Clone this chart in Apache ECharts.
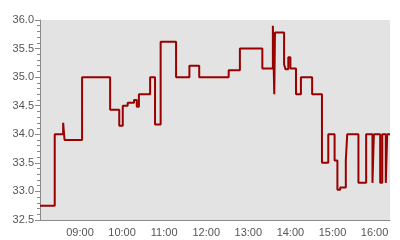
<!DOCTYPE html>
<html>
<head>
<meta charset="utf-8">
<script src="https://cdn.jsdelivr.net/npm/echarts@6/dist/echarts.min.js"></script>
<style>html,body{margin:0;padding:0;background:#fff}#c{width:400px;height:240px}</style>
</head>
<body>
<div id="c"></div>
<script>
var day = '2024-01-02 ';
var times = ['08:03','08:24','08:36','08:38','09:03','09:43','09:56','10:01','10:08','10:17','10:21','10:24','10:40','10:47','10:55','11:17','11:36','11:50','12:32','12:48','13:20','13:35','13:37','13:38','13:51','13:53','13:57','14:00','14:08','14:15','14:31','14:45','14:54','15:03','15:07','15:11','15:19','15:21','15:37','15:48','15:57','15:59','16:08','16:11','16:16','16:18','16:22'];
var values = [32.75,34.0,34.2,33.9,35.0,34.43,34.15,34.5,34.55,34.6,34.48,34.7,35.0,34.17,35.62,35.0,35.2,35.0,35.12,35.5,35.15,35.9,34.7,35.78,35.22,35.14,35.35,35.15,34.7,35.0,34.7,33.5,34.0,33.54,33.03,33.07,33.54,34.0,33.15,34.0,33.15,34.0,33.15,34.0,33.15,34.0,34.0];
var axisMin = '08:03', axisMax = '16:22';
var yMin = 32.5, yMax = 36.0, yStep = 0.5;

var data = times.map(function(t, i){ return [day + t, values[i]]; });
var chart = echarts.init(document.getElementById('c'), null, {renderer: 'canvas'});
chart.setOption({
  animation: false,
  textStyle: {fontFamily: 'Liberation Sans'},
  grid: {left: 40, right: 10, top: 20, bottom: 20, show: true, backgroundColor: '#e3e3e3', borderWidth: 0},
  xAxis: {
    type: 'time',
    min: day + axisMin, max: day + axisMax,
    minInterval: 3600000, maxInterval: 3600000,
    axisLine: {lineStyle: {color: '#8a8a8a', width: 1}},
    axisTick: {show: false},
    splitLine: {show: false},
    axisLabel: {formatter: '{HH}:{mm}', color: '#555', fontSize: 11, margin: 7, showMinLabel: false, showMaxLabel: false, hideOverlap: false}
  },
  yAxis: {
    type: 'value', min: yMin, max: yMax, interval: yStep,
    axisLine: {show: true, lineStyle: {color: '#8a8a8a', width: 1}},
    axisTick: {show: true, length: 5, lineStyle: {color: '#8a8a8a'}},
    minorTick: {show: true, splitNumber: 5, length: 3, lineStyle: {color: '#8a8a8a'}},
    splitLine: {show: false},
    axisLabel: {formatter: function(v){ return v.toFixed(1); }, color: '#555', fontSize: 11, margin: 6}
  },
  series: [{
    type: 'line', step: 'end', data: data, showSymbol: false, symbol: 'none',
    lineStyle: {color: '#990000', width: 2}
  }]
});
</script>
</body>
</html>
